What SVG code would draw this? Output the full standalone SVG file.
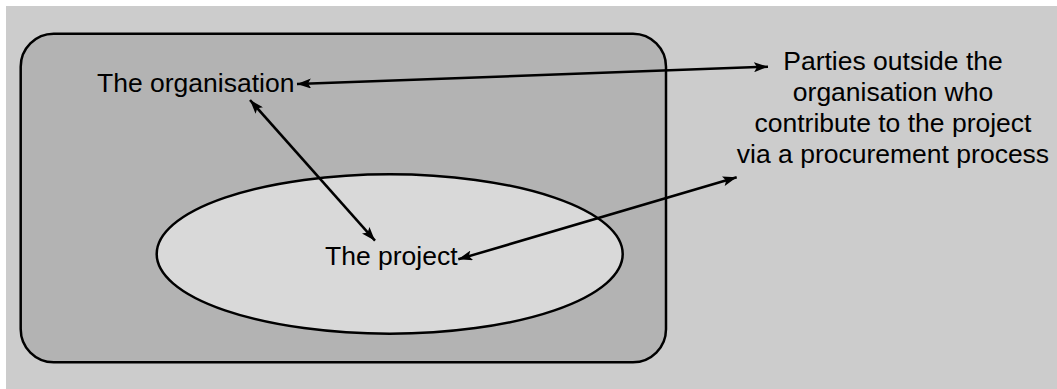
<svg xmlns="http://www.w3.org/2000/svg" width="1057" height="389" viewBox="0 0 1057 389">
  <style>
    .label { font-family: "Liberation Sans", Arial, sans-serif; font-size: 26.5px; fill: #000; }
    .mid { text-anchor: middle; }
    .edge { stroke: #000; stroke-width: 2.5; fill: none; marker-start: url(#arrow); marker-end: url(#arrow); }
    .outline { stroke: #000; stroke-width: 2.5; }
  </style>
  <defs>
    <marker id="arrow" viewBox="0 0 14 10" refX="14" refY="5" markerWidth="14" markerHeight="10" markerUnits="userSpaceOnUse" orient="auto-start-reverse">
      <path d="M0,0 L14,5 L0,10 L3,5 Z" fill="#000"/>
    </marker>
  </defs>

  <!-- page -->
  <rect x="0" y="0" width="1057" height="389" fill="#ffffff"/>
  <rect x="6" y="6" width="1051" height="383" fill="#cccccc"/>

  <!-- organisation boundary -->
  <g id="organisation">
    <rect class="outline" x="20.7" y="33.7" width="645.3" height="328.6" rx="33" ry="33" fill="#b3b3b3"/>
    <text class="label" x="97" y="91.5">The organisation</text>
  </g>

  <!-- project within the organisation -->
  <g id="project">
    <ellipse class="outline" cx="389.7" cy="254" rx="233" ry="79.7" fill="#d9d9d9"/>
    <text class="label" x="325" y="265">The project</text>
  </g>

  <!-- external parties -->
  <g id="parties">
    <text class="label mid" x="893" y="70">Parties outside the</text>
    <text class="label mid" x="893" y="101">organisation who</text>
    <text class="label mid" x="893" y="132">contribute to the project</text>
    <text class="label mid" x="893" y="163">via a procurement process</text>
  </g>

  <!-- two-way relationships -->
  <g id="connectors">
    <line class="edge" x1="297" y1="84" x2="768" y2="66.7"/>
    <line class="edge" x1="250" y1="100" x2="375" y2="240.7"/>
    <line class="edge" x1="458.3" y1="259.3" x2="736.7" y2="177.3"/>
  </g>
</svg>
